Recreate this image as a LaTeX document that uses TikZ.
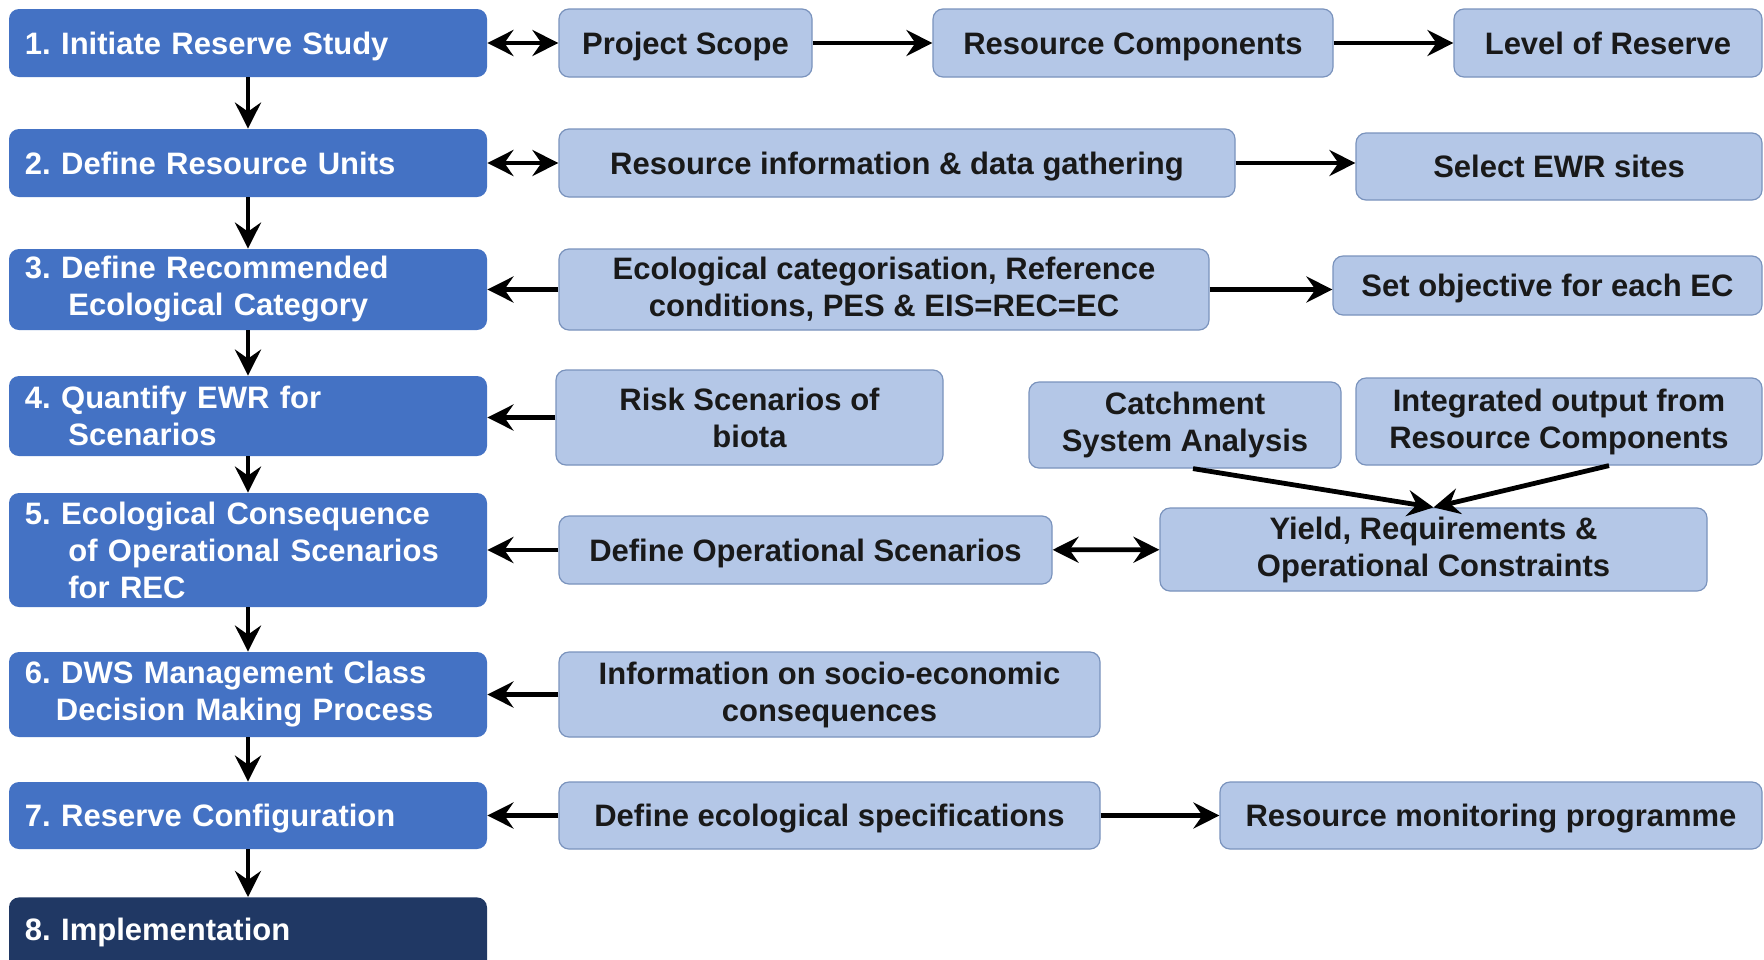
\documentclass[tikz,border=0pt]{standalone}
\usepackage{fontspec}
\setmainfont{Liberation Sans}
\usepackage{tikz}
\usetikzlibrary{arrows.meta}

\definecolor{stepblue}{HTML}{4472C4}
\definecolor{stepnavy}{HTML}{203864}
\definecolor{infoblue}{HTML}{B4C7E7}
\definecolor{infoline}{HTML}{7A93BD}

\frenchspacing

\begin{document}
\begin{tikzpicture} [x=0.5pt, y=-0.5pt,
	font=\fontsize{15.5}{18.5}\selectfont\bfseries,
	>={Stealth[length=13pt, width=13pt, inset=4.5pt]},
	stepbox/.style={fill=stepblue, text=white, rounded corners=5pt,
		minimum width=239pt, text width=223pt, inner xsep=8pt, align=left},
	infobox/.style={fill=infoblue, draw=infoline, line width=0.6pt,
		rounded corners=5pt, align=center, text=black!90},
	oneline/.style={text height=11pt, text depth=0pt},
	link/.style={line width=2.4pt, ->},
	twolink/.style={line width=2.4pt, <->}]
	
	\useasboundingbox (0,0) rectangle (1764,959);
	\fill[white] (0,0) rectangle (1764,959);
	
	% steps of the reserve study
	\node[stepbox, oneline, minimum height=34pt] (s1) at (248,43) {1. Initiate Reserve Study};
	\node[stepbox, oneline, minimum height=34pt] (s2) at (248,163) {2. Define Resource Units};
	\node[stepbox, minimum height=40.5pt] (s3) at (248,289.5) {3. Define Recommended\\\hspace*{1.4em}Ecological Category};
	\node[stepbox, minimum height=40pt] (s4) at (248,416) {4. Quantify EWR for\\\hspace*{1.4em}Scenarios};
	\node[stepbox, minimum height=57pt] (s5) at (248,550) {5. Ecological Consequence\\\hspace*{1.4em}of Operational Scenarios\\\hspace*{1.4em}for REC};
	\node[stepbox, minimum height=42.5pt] (s6) at (248,694.5) {6. DWS Management Class\\\hspace*{1em}Decision Making Process};
	\node[stepbox, oneline, minimum height=33.5pt] (s7) at (248,815.5) {7. Reserve Configuration};
	\node[stepbox, fill=stepnavy, anchor=north, text height=16.5pt, text depth=17.5pt,
		inner ysep=5pt] (s8) at (248,897) {8. Implementation};
	
	% inputs and outputs
	\node[infobox, oneline, minimum width=126.5pt, minimum height=34pt] (scope) at (685.5,43) {Project Scope};
	\node[infobox, oneline, minimum width=200pt, minimum height=34pt] (comp) at (1133,43) {Resource Components};
	\node[infobox, oneline, minimum width=154pt, minimum height=34pt] (level) at (1608,43) {Level of Reserve};
	\node[infobox, oneline, minimum width=338pt, minimum height=34pt] (info) at (897,163) {Resource information \& data gathering};
	\node[infobox, oneline, minimum width=203pt, minimum height=33.5pt] (ewr) at (1559,166.5) {Select EWR sites};
	\node[infobox, minimum width=325pt, minimum height=40.5pt] (ecocat) at (884,289.5) {Ecological categorisation, Reference\\conditions, PES \& EIS=REC=EC};
	\node[infobox, oneline, minimum width=214.5pt, minimum height=29.5pt] (objective) at (1547.5,285.5) {Set objective for each EC};
	\node[infobox, minimum width=193.5pt, minimum height=47.5pt] (risk) at (749.5,417.5) {Risk Scenarios of\\biota};
	\node[infobox, minimum width=156pt, minimum height=43pt] (catch) at (1185,425) {Catchment\\System Analysis};
	\node[infobox, minimum width=203pt, minimum height=43.5pt] (integ) at (1559,421.5) {Integrated output from\\Resource Components};
	\node[infobox, oneline, minimum width=246.5pt, minimum height=34pt] (defop) at (805.5,550) {Define Operational Scenarios};
	\node[infobox, minimum width=273.5pt, minimum height=41.5pt] (yield) at (1433.5,549.5) {Yield, Requirements \&\\Operational Constraints};
	\node[infobox, minimum width=270.5pt, minimum height=42.5pt] (socio) at (829.5,694.5) {Information on socio-economic\\consequences};
	\node[infobox, oneline, minimum width=270.5pt, minimum height=33.5pt] (ecospec) at (829.5,815.5) {Define ecological specifications};
	\node[infobox, oneline, minimum width=271pt, minimum height=33.5pt] (monit) at (1491,815.5) {Resource monitoring programme};
	
	% down the steps
	\foreach \a/\b in {s1/s2, s2/s3, s3/s4, s4/s5, s5/s6, s6/s7, s7/s8}
		\draw[link] (\a) -- (\b);
	
	\draw[twolink] (s1) -- (scope);
	\draw[link] (scope) -- (comp);
	\draw[link] (comp) -- (level);
	\draw[twolink] (s2) -- (info);
	\draw[link] (info.east) -- (info.east -| ewr.west);
	\draw[link] (ecocat) -- (s3);
	\draw[link] (ecocat.east) -- (ecocat.east -| objective.west);
	\draw[link] (risk.west) -- (risk.west -| s4.east);
	\draw[link] ([xshift=4pt]catch.south) -- (yield.north);
	\draw[link] ([xshift=25pt]integ.south) -- (yield.north);
	\draw[link] (defop) -- (s5);
	\draw[twolink] (defop) -- (yield);
	\draw[link] (socio) -- (s6);
	\draw[link] (ecospec) -- (s7);
	\draw[link] (ecospec) -- (monit);
	
\end{tikzpicture}
\end{document}
